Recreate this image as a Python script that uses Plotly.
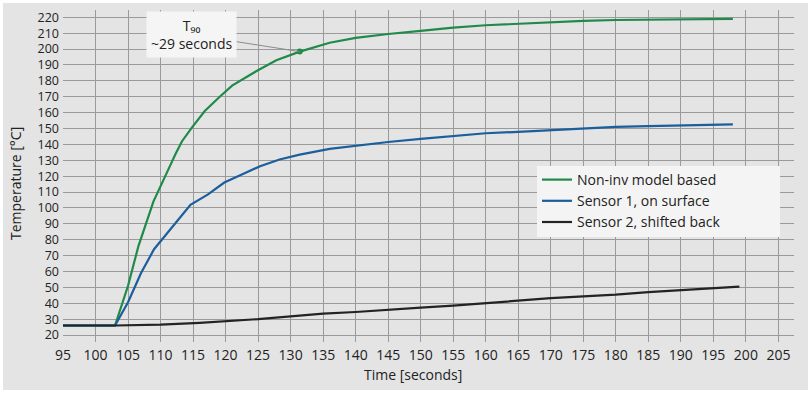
import plotly.graph_objects as go

# ---- data ----
green_t = [95, 103, 105, 106.6, 108.9, 110.2, 111.4, 112.3, 113.3, 114.9, 116.8, 119.1, 121, 124.7, 127.8,
           131.4, 136, 140, 145, 150, 155, 160, 165, 170, 175, 180, 185, 190, 198]
green_y = [26, 26, 51, 76, 104, 116, 126, 134, 142, 151, 161, 170, 177, 186, 193,
           198.4, 204, 207, 209.5, 211.5, 213.5, 215, 216, 217, 217.7, 218.3, 218.5, 219, 219]

blue_t = [95, 103, 105, 107, 109, 110.2, 112.7, 114.6, 117.3, 119.8, 122.5, 125.3, 128.3, 131.4,
          136, 140, 145, 150, 155, 160, 165, 170, 175, 180, 185, 190, 195, 198]
blue_y = [26, 26, 40.6, 59, 74, 80, 93, 102, 108.5, 116, 121, 126.3, 130.5, 133.6,
          137.2, 139.3, 141.5, 143.5, 145.3, 147, 147.9, 149, 150.3, 151, 151.5, 151.8, 152, 152.6]

black_t = [95, 103, 110, 116, 125, 130, 135, 140, 145, 150, 155, 160, 165, 170, 175, 180, 185, 190, 195, 199]
black_y = [26, 26, 26.5, 27.7, 30, 31.8, 33.5, 34.5, 36, 37.3, 38.5, 40.2, 41.8, 43.2, 44.3, 45.4, 47, 48.3, 49.2, 50.4]

series_names = ["Non-inv model based", "Sensor 1, on surface", "Sensor 2, shifted back"]
t90_t = [131.4]
t90_y = [198.4]
t90_label = "T₉₀<br>~29 seconds"

x_ticks = list(range(95, 210, 5))
y_ticks = list(range(20, 230, 10))

FONT = "'Open Sans', 'Noto Sans', sans-serif"
GREEN = "#1f8a4a"
BLUE = "#1b5e9c"
BLACK = "#232323"

fig = go.Figure()
fig.add_trace(go.Scatter(x=green_t, y=green_y, mode="lines", name=series_names[0],
                         line=dict(color=GREEN, width=2.2)))
fig.add_trace(go.Scatter(x=blue_t, y=blue_y, mode="lines", name=series_names[1],
                         line=dict(color=BLUE, width=2.2)))
fig.add_trace(go.Scatter(x=black_t, y=black_y, mode="lines", name=series_names[2],
                         line=dict(color=BLACK, width=2.2)))
fig.add_trace(go.Scatter(x=t90_t, y=t90_y, mode="markers", showlegend=False,
                         marker=dict(color=GREEN, size=6)))

# plot area pixel geometry
L, R, T, B = 63, 18, 10, 51
W = 812 - L - R
H = 393 - T - B

def px_x(p):
    return (p - L) / W

def px_y(p):
    return (393 - B - p) / H

# outer grey panel
fig.add_shape(type="rect", xref="paper", yref="paper",
              x0=px_x(3), x1=px_x(808), y0=px_y(390), y1=px_y(3),
              fillcolor="#e4e4e4", line=dict(width=0), layer="below")
# legend panel
fig.add_shape(type="rect", xref="paper", yref="paper",
              x0=px_x(537), x1=px_x(780), y0=px_y(237), y1=px_y(166),
              fillcolor="#f4f4f4", line=dict(width=0), layer="above")

fig.add_annotation(x=t90_t[0], y=t90_y[0], xref="x", yref="y", text=t90_label,
                   showarrow=True, arrowhead=0, arrowwidth=1, arrowcolor="#8a8a8a",
                   ax=-108, ay=-17, bgcolor="#f5f5f5", borderpad=4,
                   font=dict(family=FONT, size=14, color="#222"), align="center")

fig.add_annotation(x=148.8, y=px_y(375), xref="x", yref="paper", text="Time [seconds]",
                   showarrow=False, font=dict(family=FONT, size=14, color="#222"),
                   xanchor="center", yanchor="middle")
fig.add_annotation(x=px_x(15), y=px_y(184), xref="paper", yref="paper", text="Temperature [°C]",
                   textangle=-90, showarrow=False, font=dict(family=FONT, size=14, color="#222"),
                   xanchor="center", yanchor="middle")

fig.update_layout(
    width=812, height=393,
    margin=dict(l=L, r=R, t=T, b=B),
    paper_bgcolor="white",
    plot_bgcolor="rgba(0,0,0,0)",
    font=dict(family=FONT, size=14, color="#222"),
    showlegend=True,
    legend=dict(x=px_x(537), y=px_y(164), xanchor="left", yanchor="top",
                bgcolor="rgba(0,0,0,0)", borderwidth=0,
                font=dict(family=FONT, size=14, color="#222"),
                tracegroupgap=0, itemwidth=30),
    xaxis=dict(range=[95, 207.4], tickvals=x_ticks, showgrid=True, gridcolor="#9a9a9a",
               gridwidth=1.3, zeroline=False, showline=False, ticks="", ticklabelstandoff=3,
               tickfont=dict(family=FONT, size=14, color="#222")),
    yaxis=dict(range=[15.6, 224.6], tickvals=y_ticks, showgrid=True, gridcolor="#9a9a9a",
               gridwidth=1.3, zeroline=False, showline=False, ticks="", ticklabelstandoff=3,
               tickfont=dict(family=FONT, size=12.5, color="#222")),
)

fig.write_html("out.html")
